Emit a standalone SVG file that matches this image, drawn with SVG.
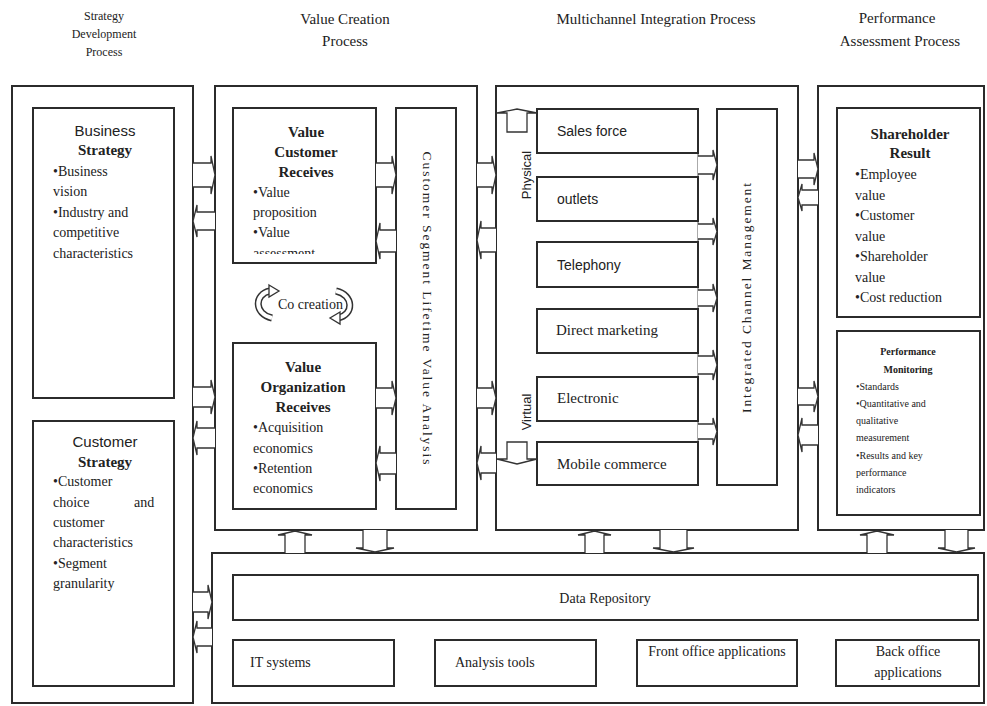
<svg xmlns="http://www.w3.org/2000/svg" width="987" height="706" viewBox="0 0 987 706">
<style>
.box{fill:none;stroke:#2b2b2b;stroke-width:2}
.in{fill:#fff;stroke:#2b2b2b;stroke-width:2}
.arr{fill:#fff;stroke:#333;stroke-width:1.3;stroke-linejoin:miter}
.t{font-family:"Liberation Serif","Times New Roman",serif;fill:#222}
.s{font-family:"Liberation Sans",Arial,sans-serif;fill:#222}
.hd{font-size:15px}
.b{font-size:14px}
.bold{font-weight:bold}
.c{text-anchor:middle}
</style>
<defs>
<clipPath id="clipVCR"><rect x="233" y="108" width="143" height="146"/></clipPath>
</defs>
<rect width="987" height="706" fill="#fff"/>

<g id="headers">
<text class="t c" x="104" y="20" font-size="12">Strategy</text>
<text class="t c" x="104" y="38" font-size="12">Development</text>
<text class="t c" x="104" y="56" font-size="12">Process</text>
<text class="t c hd" x="345" y="24" font-size="16">Value Creation</text>
<text class="t c hd" x="345" y="46">Process</text>
<text class="t c hd" x="656" y="24">Multichannel Integration Process</text>
<text class="t c hd" x="897" y="23">Performance</text>
<text class="t c hd" x="900" y="46">Assessment Process</text>
</g>

<g id="strategy-development">
<rect class="box" x="12" y="86" width="181" height="617"/>
<g id="business-strategy">
<rect class="in" x="33" y="108" width="141" height="290"/>
<text class="s c" x="105" y="136" font-size="15">Business</text>
<text class="t c bold" x="105" y="155" font-size="15">Strategy</text>
<text class="t b" x="53" y="176">•Business</text>
<text class="t b" x="53" y="196">vision</text>
<text class="t b" x="53" y="217">•Industry and</text>
<text class="t b" x="53" y="237">competitive</text>
<text class="t b" x="53" y="258">characteristics</text>
</g>
<g id="customer-strategy">
<rect class="in" x="33" y="421" width="141" height="265"/>
<text class="s c" x="105" y="447" font-size="15">Customer</text>
<text class="t c bold" x="105" y="467" font-size="15">Strategy</text>
<text class="t b" x="53" y="486">•Customer</text>
<text class="t b" x="53" y="507">choice</text>
<text class="t b" x="134" y="507">and</text>
<text class="t b" x="53" y="527">customer</text>
<text class="t b" x="53" y="547">characteristics</text>
<text class="t b" x="53" y="568">•Segment</text>
<text class="t b" x="53" y="588">granularity</text>
</g>
</g>

<g id="value-creation">
<rect class="box" x="215" y="86" width="262" height="444"/>
<g id="value-customer-receives">
<rect class="in" x="233" y="108" width="143" height="155"/>
<text class="t c bold" x="306" y="137" font-size="15">Value</text>
<text class="t c bold" x="306" y="157" font-size="15">Customer</text>
<text class="t c bold" x="306" y="177" font-size="15">Receives</text>
<text class="t b" x="253" y="197">•Value</text>
<text class="t b" x="253" y="217">proposition</text>
<text class="t b" x="253" y="237">•Value</text>
<text class="t b" x="253" y="258" clip-path="url(#clipVCR)">assessment</text>
</g>
<g id="co-creation">
<path d="M272,318 C254,314 254,294 270,291" fill="none" stroke="#333" stroke-width="7"/>
<path d="M272,318 C254,314 254,294 270,291" fill="none" stroke="#fff" stroke-width="4"/>
<path d="M269,285 L279,291 L269,297 Z" class="arr"/>
<path d="M336,291 C354,295 354,315 338,318" fill="none" stroke="#333" stroke-width="7"/>
<path d="M336,291 C354,295 354,315 338,318" fill="none" stroke="#fff" stroke-width="4"/>
<path d="M340,312 L330,318 L340,324 Z" class="arr"/>
<text class="t" x="278" y="309" font-size="14">Co creation</text>
</g>
<g id="value-organization-receives">
<rect class="in" x="233" y="343" width="143" height="166"/>
<text class="t c bold" x="303" y="372" font-size="15">Value</text>
<text class="t c bold" x="303" y="392" font-size="15">Organization</text>
<text class="t c bold" x="303" y="412" font-size="15">Receives</text>
<text class="t b" x="253" y="432">•Acquisition</text>
<text class="t b" x="253" y="453">economics</text>
<text class="t b" x="253" y="473">•Retention</text>
<text class="t b" x="253" y="493">economics</text>
</g>
<g id="cslva">
<rect class="in" x="396" y="108" width="60" height="401"/>
<text class="t c" transform="translate(423,308) rotate(90)" font-size="13.5" textLength="313" lengthAdjust="spacing">Customer Segment Lifetime Value Analysis</text>
</g>
</g>

<g id="multichannel">
<rect class="box" x="496" y="86" width="302" height="444"/>
<line x1="698" y1="109" x2="698" y2="485" stroke="#555" stroke-width="1"/>
<g id="ch-sales"><rect class="in" x="537" y="109" width="161" height="44"/><text class="s" x="557" y="136" font-size="14">Sales force</text></g>
<g id="ch-outlets"><rect class="in" x="537" y="177" width="161" height="44"/><text class="s" x="557" y="204" font-size="14">outlets</text></g>
<g id="ch-telephony"><rect class="in" x="537" y="242" width="161" height="45"/><text class="s" x="557" y="270" font-size="14">Telephony</text></g>
<g id="ch-direct"><rect class="in" x="537" y="309" width="161" height="44"/><text class="t" x="556" y="335" font-size="15">Direct marketing</text></g>
<g id="ch-electronic"><rect class="in" x="537" y="377" width="161" height="44"/><text class="t" x="557" y="403" font-size="15">Electronic</text></g>
<g id="ch-mobile"><rect class="in" x="537" y="442" width="161" height="43"/><text class="t" x="557" y="469" font-size="15">Mobile commerce</text></g>
<text class="s c" transform="translate(531,175) rotate(-90)" font-size="13">Physical</text>
<text class="s c" transform="translate(531,412) rotate(-90)" font-size="13">Virtual</text>
<path class="arr" d="M507,132 V113 H497 L517,109 L537,113 H527 V132 Z"/>
<path class="arr" d="M507,442 V459 H497 L517,464 L537,459 H527 V442 Z"/>
<g id="icm">
<rect class="in" x="717" y="109" width="60" height="376"/>
<text class="t c" transform="translate(751,298) rotate(-90)" font-size="13.5" textLength="230" lengthAdjust="spacing">Integrated Channel Management</text>
</g>
</g>

<g id="performance-assessment">
<rect class="box" x="818" y="86" width="166" height="444"/>
<g id="shareholder-result">
<rect class="in" x="837" y="108" width="143" height="209"/>
<text class="t c bold" x="910" y="139" font-size="15">Shareholder</text>
<text class="t c bold" x="910" y="158" font-size="15">Result</text>
<text class="t b" x="855" y="179">•Employee</text>
<text class="t b" x="855" y="200">value</text>
<text class="t b" x="855" y="220">•Customer</text>
<text class="t b" x="855" y="241">value</text>
<text class="t b" x="855" y="261">•Shareholder</text>
<text class="t b" x="855" y="282">value</text>
<text class="t b" x="855" y="302">•Cost reduction</text>
</g>
<g id="performance-monitoring">
<rect class="in" x="837" y="331" width="143" height="184"/>
<text class="t c bold" x="908" y="355" font-size="10">Performance</text>
<text class="t c bold" x="908" y="373" font-size="10">Monitoring</text>
<text class="t" x="856" y="390" font-size="10">•Standards</text>
<text class="t" x="856" y="407" font-size="10">•Quantitative and</text>
<text class="t" x="856" y="424" font-size="10">qualitative</text>
<text class="t" x="856" y="441" font-size="10">measurement</text>
<text class="t" x="856" y="459" font-size="10">•Results and key</text>
<text class="t" x="856" y="476" font-size="10">performance</text>
<text class="t" x="856" y="493" font-size="10">indicators</text>
</g>
</g>

<g id="infrastructure">
<rect class="box" x="212" y="553" width="772" height="150"/>
<g id="data-repository"><rect class="in" x="233" y="575" width="745" height="45"/><text class="t c" x="605" y="603" font-size="14">Data Repository</text></g>
<g id="it-systems"><rect class="in" x="233" y="640" width="161" height="46"/><text class="t" x="250" y="667" font-size="14">IT systems</text></g>
<g id="analysis-tools"><rect class="in" x="435" y="640" width="161" height="46"/><text class="t" x="455" y="667" font-size="14">Analysis tools</text></g>
<g id="front-office"><rect class="in" x="637" y="640" width="160" height="46"/><text class="t c" x="717" y="656" font-size="14">Front office applications</text></g>
<g id="back-office"><rect class="in" x="836" y="640" width="143" height="46"/><text class="t c" x="908" y="656" font-size="14">Back office</text><text class="t c" x="908" y="677" font-size="14">applications</text></g>
</g>

<g id="connectors">
<path class="arr" d="M193,163 H211 V156 L215,175 L211,194 V187 H193"/>
<path class="arr" d="M215,212 H197 V205 L193,221 L197,237 V230 H215"/>
<path class="arr" d="M193,387 H211 V380 L215,397 L211,414 V407 H193"/>
<path class="arr" d="M215,428 H197 V421 L193,438 L197,455 V448 H215"/>
<path class="arr" d="M193,592 H208 V585 L212,602 L208,619 V612 H193"/>
<path class="arr" d="M212,628 H197 V621 L193,637 L197,653 V646 H212"/>

<path class="arr" d="M376,163 H392 V156 L396,175 L392,194 V187 H376"/>
<path class="arr" d="M396,230 H380 V223 L376,241 L380,259 V252 H396"/>
<path class="arr" d="M376,388 H392 V381 L396,398 L392,415 V408 H376"/>
<path class="arr" d="M396,453 H380 V446 L376,463 L380,481 V474 H396"/>

<path class="arr" d="M477,163 H492 V156 L496,175 L492,194 V187 H477"/>
<path class="arr" d="M496,228 H481 V221 L477,240 L481,259 V252 H496"/>
<path class="arr" d="M477,388 H492 V381 L496,398 L492,415 V408 H477"/>
<path class="arr" d="M496,453 H481 V446 L477,463 L481,480 V473 H496"/>

<path class="arr" d="M798,160 H814 V153 L818,169 L814,185 V178 H798"/>
<path class="arr" d="M818,190 H802 V184 L798,197.5 L802,211 V205 H818"/>
<path class="arr" d="M798,388 H814 V381 L818,396.5 L814,412 V405 H798"/>
<path class="arr" d="M818,425 H802 V418 L798,435 L802,452 V445 H818"/>

<path class="arr" d="M698,156 H713 V150 L717,165 L713,180 V174 H698"/>
<path class="arr" d="M698,224 H713 V218 L717,231.5 L713,245 V239 H698"/>
<path class="arr" d="M698,290 H713 V284 L717,298 L713,312 V306 H698"/>
<path class="arr" d="M698,356 H713 V350 L717,365 L713,380 V374 H698"/>
<path class="arr" d="M698,424 H713 V418 L717,431.5 L713,445 V439 H698"/>

<path class="arr" d="M285,553 V535 H278 L295,531 L312,535 H305 V553"/>
<path class="arr" d="M363,530 V548 H356 L375,552 L394,548 H387 V530"/>
<path class="arr" d="M585,553 V535 H578 L594.5,531 L611,535 H604 V553"/>
<path class="arr" d="M660,530 V548 H653 L673.5,552 L694,548 H687 V530"/>
<path class="arr" d="M867,553 V535 H860 L877,531 L894,535 H887 V553"/>
<path class="arr" d="M945,530 V548 H938 L956.5,552 L975,548 H968 V530"/>
</g>
</svg>
